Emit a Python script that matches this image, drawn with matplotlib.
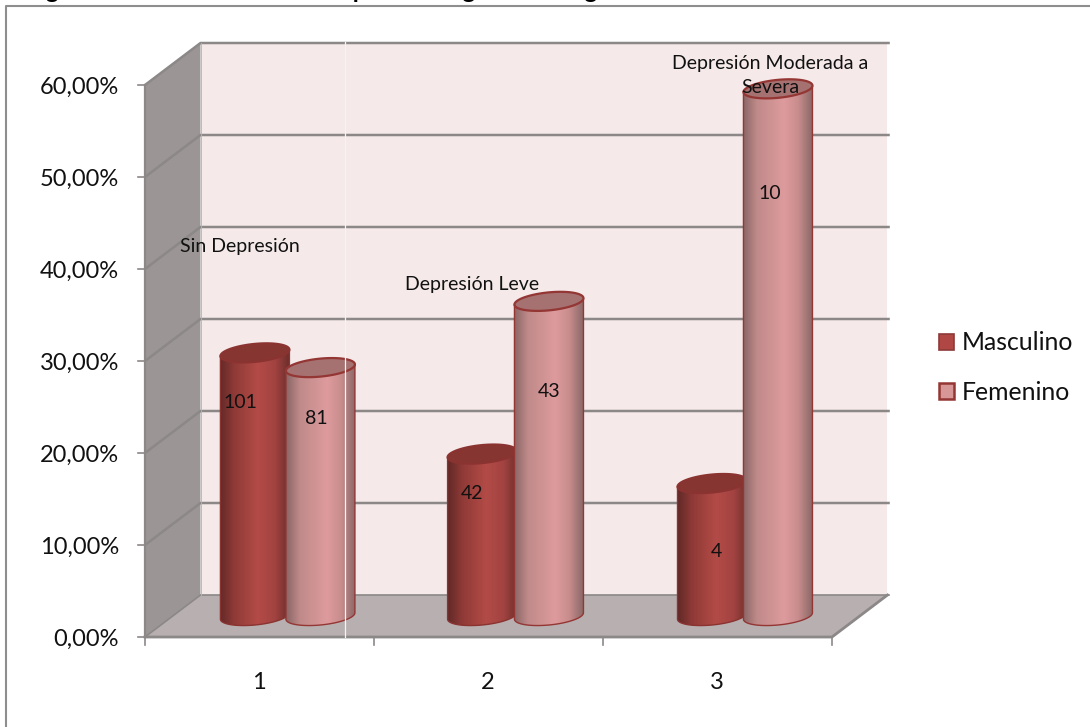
import numpy as np
import matplotlib
matplotlib.use("Agg")
import matplotlib.pyplot as plt
from matplotlib.patches import Polygon, Patch
from matplotlib.lines import Line2D
from matplotlib.colors import LinearSegmentedColormap

plt.rcParams['font.family'] = ['Lato', 'DejaVu Sans']

# Chart values
groups = ['1', '2', '3']
series_names = ['Masculino', 'Femenino']
masculino = [28.6, 17.6, 14.4]
femenino = [27.0, 34.2, 57.3]
masculino_counts = ['101', '42', '4']
femenino_counts = ['81', '43', '10']
y_ticks = [0, 10, 20, 30, 40, 50, 60]
y_tick_labels = ['0,00%', '10,00%', '20,00%', '30,00%', '40,00%', '50,00%', '60,00%']
title_text = 'Figura 5: Distribución de la Depresión según sexo o género'

W, H = 1090, 727
fig = plt.figure(figsize=(W / 100, H / 100), dpi=100, facecolor='white')
ax = fig.add_axes([145 / W, (H - 637) / H, 687 / W, 552 / H])
ax.set_xlim(0, 3)
ax.set_ylim(0, 60)
ax.axis('off')

# Oblique depth of the 3-D box, in data units
DX = 55.5 / (687 / 3)
DY = 42 / (552 / 60)
GRID = '#8c8888'

# Outer frame of the chart area
fig.add_artist(Line2D([6 / W, 6 / W, 1], [0, 1 - 5.5 / H, 1 - 5.5 / H], color='#8e8e8e', lw=1.5))

# Title, running off the top edge of the page
fig.text(26 / W, 1 + 2.4 / H, title_text, fontsize=17.5, fontweight='bold', va='baseline', ha='left')

# Walls and floor
ax.add_patch(Polygon([[DX, DY], [3 + DX, DY], [3 + DX, 60 + DY], [DX, 60 + DY]],
                     fc='#f5e9e9', ec='none', zorder=1, clip_on=False))
ax.add_patch(Polygon([[0, 0], [DX, DY], [DX, 60 + DY], [0, 60]],
                     fc='#9b9595', ec='none', zorder=1.1, clip_on=False))
ax.add_patch(Polygon([[0, 0], [3, 0], [3 + DX, DY], [DX, DY]],
                     fc='#b8b0b0', ec='none', zorder=1.2, clip_on=False))

# Gridlines across the side and back walls, and the axis ticks
for t in y_ticks:
    ax.plot([0, DX, 3 + DX + 0.01], [t, t + DY, t + DY], color=GRID, lw=1.8 if t else 1.2,
            zorder=1.5, clip_on=False, solid_capstyle='butt')
    ax.plot([-0.03, 0], [t, t], color=GRID, lw=1.2, clip_on=False, zorder=1.5)
ax.plot([0, 0], [0, 60], color=GRID, lw=1.6, clip_on=False, zorder=1.6)
ax.plot([DX, DX], [DY, 60 + DY], color='#b8b4b4', lw=0.6, clip_on=False, zorder=1.6)
ax.plot([0, 3, 3 + DX], [0, 0, DY], color=GRID, lw=2.0, clip_on=False, zorder=1.6)
for i in range(4):
    ax.plot([i, i], [0, -0.85], color=GRID, lw=1.2, clip_on=False, zorder=1.6)

for t, s in zip(y_ticks, y_tick_labels):
    ax.text(-26 / 229, t - 0.3, s, ha='right', va='center', fontsize=17, color='#111111', clip_on=False)
for i, s in enumerate(groups):
    ax.text(i + 0.497, -4.9, s, ha='center', va='center', fontsize=17, color='#111111', clip_on=False)

# Cylinder geometry
RX = 34.5 / 229
RY = 9.0 / 9.2
TILT = 3.2 / 9.2
BASE = DY / 2
masc_cmap = LinearSegmentedColormap.from_list(
    'm', [(0, '#622a28'), (0.2, '#8f3a37'), (0.55, '#b34b47'), (0.8, '#a24341'), (1, '#6e2f2c')])
fem_cmap = LinearSegmentedColormap.from_list(
    'f', [(0, '#8a6665'), (0.2, '#c08a8a'), (0.6, '#de9b9d'), (0.8, '#c98d8d'), (1, '#8d6a69')])


def cylinder(cx, value, cmap, cap_color, edge, z):
    """Draw one shaded cylinder standing on the floor, centred at cx."""
    top = BASE + value
    t = np.linspace(0, 2 * np.pi, 121)
    ex, ey = RX * np.cos(t), RY * np.sin(t) + TILT * np.cos(t)
    lower = np.linspace(np.pi, 2 * np.pi, 61)
    lx = cx + RX * np.cos(lower)
    ly = BASE + RY * np.sin(lower) + TILT * np.cos(lower)
    # Body outline: round the base, up the right side, across the top axis
    verts = np.r_[np.c_[lx, ly], [[cx + RX, top + TILT], [cx - RX, top - TILT]]]
    body = Polygon(verts, closed=True, fc='none', ec=edge, lw=1.0, zorder=z + 0.2, clip_on=False)
    ax.add_patch(body)
    img = ax.imshow(np.linspace(0, 1, 128).reshape(1, -1),
                    extent=[cx - RX, cx + RX, 0, top + 2], aspect='auto', cmap=cmap, zorder=z)
    img.set_clip_box(None)
    img.set_clip_path(body)
    ax.add_patch(Polygon(np.c_[cx + ex, top + ey], closed=True, fc=cap_color, ec=edge,
                         lw=1.6, zorder=z + 0.3, clip_on=False))


centers_m = [0.480, 1.472, 2.476]
centers_f = [0.766, 1.764, 2.764]
for cx, v in zip(centers_m, masculino):
    cylinder(cx, v, masc_cmap, '#873530', '#8a3331', 3)
for cx, v in zip(centers_f, femenino):
    cylinder(cx, v, fem_cmap, '#a57171', '#943634', 4)

ax.set_xlim(0, 3)
ax.set_ylim(0, 60)

# Thin light rule crossing the plot
ax.plot([0.873, 0.873], [0, 60 + DY + 0.1], color='#f4f4f4', lw=0.9, zorder=6, clip_on=False)

# Value labels inside the cylinders
m_label_y = [25.5, 15.6, 9.3]
f_label_y = [23.8, 26.7, 48.2]
m_label_x = [0.415, 1.428, 2.497]
f_label_x = [0.75, 1.764, 2.73]
for x, y, s in zip(m_label_x, m_label_y, masculino_counts):
    ax.text(x, y, s, ha='center', va='center', fontsize=14, color='#111111', zorder=7, clip_on=False)
for x, y, s in zip(f_label_x, f_label_y, femenino_counts):
    ax.text(x, y, s, ha='center', va='center', fontsize=14, color='#111111', zorder=7, clip_on=False)

# Category annotations
ax.text(0.415, 42.5, 'Sin Depresión', ha='center', va='center', fontsize=14, color='#111111', zorder=7)
ax.text(1.428, 38.3, 'Depresión Leve', ha='center', va='center', fontsize=14, color='#111111', zorder=7)
ax.text(2.73, 61.0, 'Depresión Moderada a\nSevera', ha='center', va='center', fontsize=14,
        color='#111111', zorder=7, linespacing=1.5, clip_on=False)

# Legend
handles = [Patch(fc='#b04744', ec='#8c3a38', lw=1.2), Patch(fc='#d89797', ec='#943634', lw=1.8)]
fig.legend(handles, series_names, loc='center left', bbox_to_anchor=(939 / W, 1 - 367.5 / H),
           frameon=False, fontsize=17.8, handlelength=0.62, handleheight=0.62, handletextpad=0.29,
           labelspacing=1.07, borderpad=0, borderaxespad=0, labelcolor='#111111')

fig.savefig('out.png', dpi=100)
